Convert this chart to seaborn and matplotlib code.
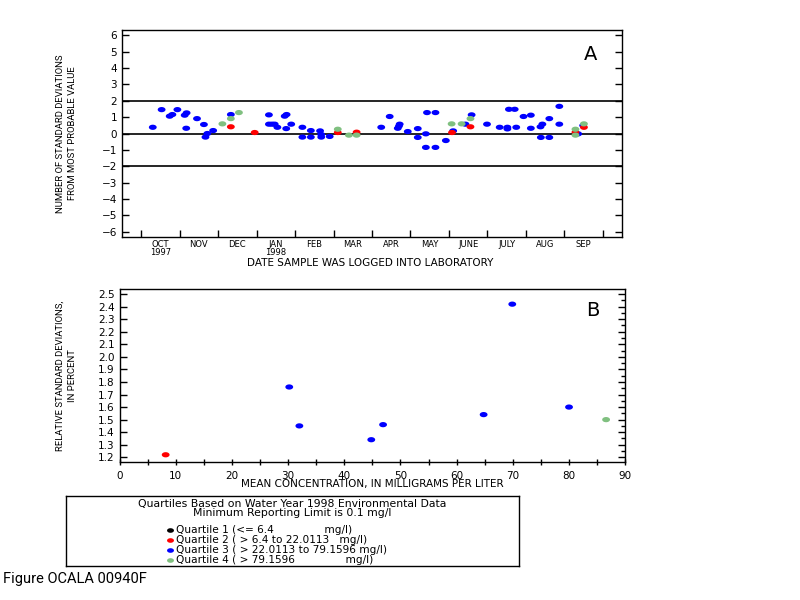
import numpy as np
import pandas as pd
import matplotlib.pyplot as plt
import seaborn as sns
from matplotlib.path import Path
from matplotlib.lines import Line2D
from matplotlib.ticker import MultipleLocator, FormatStrFormatter

# month labels of the water year (Oct 1997 - Sep 1998)
months = ['OCT\n1997', 'NOV', 'DEC', 'JAN\n1998', 'FEB', 'MAR', 'APR',
          'MAY', 'JUNE', 'JULY', 'AUG', 'SEP']

# panel A: months since Oct 1 1997, number of std deviations
q2_month = [2.33, 2.95, 5.11, 5.60, 8.08, 8.56, 11.29, 11.51]
q2_ndev = [0.41, 0.06, 0.06, 0.08, 0.06, 0.41, 0.08, 0.38]

q3_month = [0.30, 0.53, 0.74, 0.81, 0.94, 1.13, 1.18, 1.17, 1.45, 1.63,
            1.72, 1.67, 1.87, 2.33, 3.32, 3.32, 3.40, 3.47, 3.54, 3.73,
            3.78, 3.77, 3.90, 4.19, 4.19, 4.41, 4.41, 4.65, 4.68, 4.68,
            4.90, 6.24, 6.46, 6.72, 6.67, 6.70, 6.93, 7.19, 7.19, 7.43,
            7.40, 7.40, 7.65, 7.65, 7.92, 8.11, 8.43, 8.59, 8.99, 9.32,
            9.52, 9.52, 9.56, 9.71, 9.75, 9.94, 10.13, 10.13, 10.38, 10.43,
            10.39, 10.61, 10.61, 10.87, 10.87, 11.36, 11.49]
q3_ndev = [0.38, 1.46, 1.06, 1.16, 1.46, 1.12, 1.26, 0.32, 0.91, 0.55,
           0.00, -0.22, 0.18, 1.16, 1.14, 0.57, 0.57, 0.57, 0.38, 1.06,
           1.16, 0.30, 0.57, 0.38, -0.22, 0.18, -0.22, 0.16, -0.06, -0.22,
           -0.18, 0.38, 1.04, 0.57, 0.32, 0.45, 0.12, 0.30, -0.24, 1.28,
           -0.02, -0.85, 1.28, -0.85, -0.43, 0.16, 0.57, 1.14, 0.57, 0.38,
           0.38, 0.28, 1.48, 1.48, 0.38, 1.04, 1.12, 0.32, 0.41, 0.57,
           -0.24, -0.24, 0.91, 1.66, 0.57, -0.02, 0.49]

q4_month = [2.11, 2.33, 2.54, 5.11, 5.40, 5.60, 8.07, 8.33, 8.56, 11.29,
            11.29, 11.51]
q4_ndev = [0.59, 0.91, 1.28, 0.26, -0.10, -0.10, 0.59, 0.59, 0.91, 0.26,
           -0.10, 0.59]

# panel B: mean concentration (mg/l) vs relative std deviation (%)
conc = [8.2, 30.2, 32.0, 44.8, 46.9, 64.8, 69.9, 80.0, 86.6]
rsd = [1.22, 1.76, 1.45, 1.34, 1.46, 1.54, 2.42, 1.60, 1.50]
conc_quartile = ['2', '3', '3', '3', '3', '3', '3', '3', '4']

quartile_labels = ['Quartile 1 (<= 6.4               mg/l)',
                   'Quartile 2 ( > 6.4 to 22.0113   mg/l)',
                   'Quartile 3 ( > 22.0113 to 79.1596 mg/l)',
                   'Quartile 4 ( > 79.1596               mg/l)']
colors = {'1': 'black', '2': '#FF0000', '3': '#0000FF', '4': '#80C080'}

sns.set_style('ticks')
plt.rcParams['font.family'] = ['DejaVu Sans']
for key in ('text.color', 'axes.labelcolor', 'xtick.color', 'ytick.color'):
    plt.rcParams[key] = 'black'
narrow = ['Roboto', 'DejaVu Sans']

# little oval marker like the original plotter dots
t = np.linspace(0, 2 * np.pi, 25)
oval = Path(np.column_stack([1.5 * np.cos(t), np.sin(t)]))

top = pd.DataFrame({
    'month': q3_month + q2_month + q4_month,
    'ndev': q3_ndev + q2_ndev + q4_ndev,
    'quartile': ['3'] * len(q3_month) + ['2'] * len(q2_month) + ['4'] * len(q4_month)})
bot = pd.DataFrame({'conc': conc, 'rsd': rsd, 'quartile': conc_quartile})

fig = plt.figure(figsize=(8, 6), dpi=100)

# ---- panel A
ax1 = fig.add_axes([0.1525, 0.605, 0.625, 0.345])
sns.scatterplot(data=top, x='month', y='ndev', hue='quartile', palette=colors,
                marker=oval, s=32, linewidth=0, legend=False, ax=ax1, zorder=3)
for yv in (2, 0, -2):
    ax1.axhline(yv, color='black', lw=1.2, zorder=2)
ax1.set_xlim(-0.5, 12.5)
ax1.set_ylim(-6.33, 6.33)
ax1.set_xticks(range(13))
ax1.set_xticklabels([])
ax1.set_xticks(np.arange(12) + 0.5, minor=True)
ax1.set_xticklabels(months, minor=True, fontsize=6, linespacing=0.85)
ax1.tick_params(axis='x', which='major', direction='in', length=5, width=1)
ax1.tick_params(axis='x', which='minor', length=0, pad=2)
ax1.set_yticks(range(-6, 7))
ax1.tick_params(axis='y', direction='in', length=5, width=1, left=True,
                right=True, labelsize=7.5)
ax1.set_xlabel('')
ax1.set_ylabel('')
ax1.text(0.938, 0.884, 'A', transform=ax1.transAxes, fontsize=14,
         ha='center', va='center')

# ---- panel B
ax2 = fig.add_axes([0.1495, 0.2295, 0.632, 0.2893])
sns.scatterplot(data=bot, x='conc', y='rsd', hue='quartile', palette=colors,
                marker=oval, s=32, linewidth=0, legend=False, ax=ax2, zorder=3)
ax2.set_xlim(0, 90)
ax2.set_ylim(1.16, 2.543)
ax2.xaxis.set_major_locator(MultipleLocator(10))
ax2.xaxis.set_minor_locator(MultipleLocator(5))
ax2.yaxis.set_major_locator(MultipleLocator(0.1))
ax2.yaxis.set_minor_locator(MultipleLocator(0.05))
ax2.yaxis.set_major_formatter(FormatStrFormatter('%.1f'))
ax2.tick_params(axis='x', which='both', direction='inout', length=5, width=1,
                labelsize=7.5)
ax2.tick_params(axis='y', which='major', direction='in', length=5, width=1,
                left=True, right=True, labelsize=7.5)
ax2.tick_params(axis='y', which='minor', direction='in', length=3, width=1,
                left=False, right=True)
ax2.set_xlabel('')
ax2.set_ylabel('')
ax2.text(0.935, 0.872, 'B', transform=ax2.transAxes, fontsize=14,
         ha='center', va='center')

for ax in (ax1, ax2):
    for sp in ax.spines.values():
        sp.set_visible(True)
        sp.set_color('black')
        sp.set_linewidth(1)

# axis titles
fig.text(66.7 / 800, 1 - 133.5 / 600,
         'NUMBER OF STANDARD DEVIATIONS\nFROM MOST PROBABLE VALUE',
         rotation=90, ha='center', va='center', fontsize=6.8, family=narrow,
         linespacing=1.5)
fig.text(370 / 800, 1 - 263.5 / 600, 'DATE SAMPLE WAS LOGGED INTO LABORATORY',
         ha='center', va='center', fontsize=7.5)
fig.text(66.7 / 800, 1 - 376 / 600,
         'RELATIVE STANDARD DEVIATIONS,\nIN PERCENT',
         rotation=90, ha='center', va='center', fontsize=6.8, family=narrow,
         linespacing=1.5)
fig.text(372 / 800, 1 - 484 / 600,
         'MEAN CONCENTRATION, IN MILLIGRAMS PER LITER',
         ha='center', va='center', fontsize=7.5)

# ---- quartile legend box
box = fig.add_axes([66 / 800, 1 - 566 / 600, 453 / 800, 70.3 / 600])
box.set_xticks([])
box.set_yticks([])
for sp in box.spines.values():
    sp.set_visible(True)
    sp.set_color('black')
    sp.set_linewidth(1)
box.text(0.5, 0.882, 'Quartiles Based on Water Year 1998 Environmental Data',
         ha='center', va='center', fontsize=7.8, transform=box.transAxes)
box.text(0.5, 0.75, 'Minimum Reporting Limit is 0.1 mg/l',
         ha='center', va='center', fontsize=7.8, transform=box.transAxes)
handles = [Line2D([], [], linestyle='', marker=oval, markersize=5,
                  markerfacecolor=colors[q], markeredgewidth=0)
           for q in ['1', '2', '3', '4']]
box.legend(handles, quartile_labels, loc='upper left',
           bbox_to_anchor=(0.222, 0.58), frameon=False, fontsize=7.6,
           labelspacing=0.0, handlelength=0.6, handletextpad=0.25,
           borderpad=0, borderaxespad=0)

fig.text(3 / 800, 1 - 579 / 600, 'Figure OCALA 00940F', ha='left',
         va='center', fontsize=10.5, family=narrow)

fig.savefig('out.png', dpi=100)
